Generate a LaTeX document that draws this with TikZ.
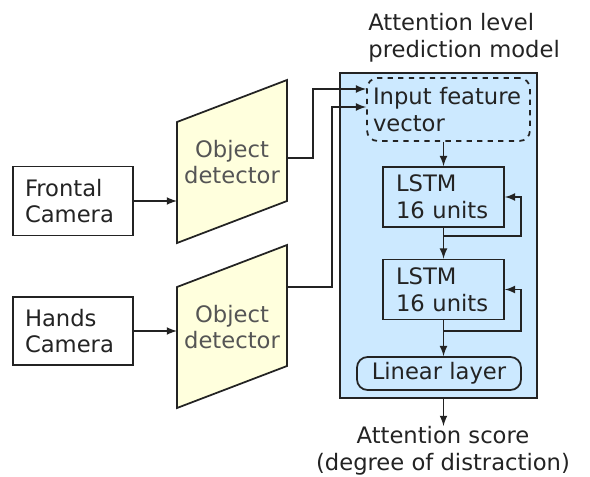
\documentclass[tikz,border=0pt]{standalone}
\usepackage{fontspec}
\setmainfont{DejaVu Sans}
\usepackage{tikz}
\usetikzlibrary{arrows,shapes,calc,positioning}
\definecolor{grisOscuro}{RGB}{35,35,35}
\definecolor{grisTexto}{RGB}{85,85,85}
\definecolor{azulClaro}{RGB}{204,233,255}
\definecolor{amarilloClaro}{RGB}{255,255,221}
\tikzstyle{edge}    =[->, >=latex, line width=1pt, draw=grisOscuro]
\tikzstyle{block}   =[rectangle, draw=grisOscuro, line width=1pt,
                      align=left, inner ysep=0pt, text=grisOscuro]
\tikzstyle{detector}=[draw=grisOscuro, fill=amarilloClaro, line width=1pt]
\tikzstyle{dettxt}  =[align=center, text=grisTexto, inner sep=0pt]
\tikzstyle{model}   =[rectangle, draw=grisOscuro, fill=azulClaro,
                      line width=1.3pt, minimum width=3.94cm,
                      minimum height=6.5cm]
\tikzstyle{txt}     =[inner sep=0pt, text=grisOscuro]

\begin{document}
\begin{tikzpicture}[x=0.02cm, y=-0.02cm, font=\fontsize{12.9}{15.2}\selectfont]
    \useasboundingbox (0,0) rectangle (590,476);

    % cameras
    \node[block, text width=1.92cm, inner xsep=0.24cm, minimum height=1.38cm]
        (frontal) at (73,201) {Frontal\\Camera};
    \node[block, text width=1.92cm, inner xsep=0.24cm, minimum height=1.36cm]
        (hands) at (73,331) {Hands\\Camera};

    % object detectors
    \foreach \n/\y in {1/122, 2/287} {
        \draw[detector] (177,\y) -- ++(110,-42) -- ++(0,121) -- ++(-110,42) -- cycle;
        \coordinate (det\n-l) at (177,\y);
        \node[dettxt] (det\n) at (232,\y+40) {Object\\detector};
    }
    \coordinate (det1-out) at (287,158);
    \coordinate (det2-out) at (287,287);

    % attention model
    \node[model] (model) at (438.5,235.5) {};
    \node[txt, anchor=west, align=left] (title) at (368,38)
        {Attention level\\prediction model};

    \node[block, dashed, rounded corners=6pt, text width=3.02cm,
          inner xsep=0.12cm, minimum height=1.26cm]
        (input) at (448.5,109.5) {Input feature\\vector};
    \foreach \n/\y in {1/197, 2/289.5}
        \node[block, text width=1.9cm, inner xsep=0.26cm, minimum height=1.2cm]
            (lstm\n) at (443.5,\y) {LSTM\\16 units};
    \node[block, rounded corners=6pt, align=center, minimum width=3.28cm,
          minimum height=0.66cm] (linear) at (439,373.5) {Linear layer};

    \node[txt, anchor=north, align=center] (score) at (443,426)
        {Attention score\\(degree of distraction)};

    % connections
    \draw[edge] (frontal.east) -- (frontal.east -| det1-l);
    \draw[edge] (hands.east) -- (hands.east -| det2-l);
    \draw[edge] (det1-out) -- ++(26,0) |- ([yshift=0.41cm]input.west);
    \draw[edge] (det2-out) -- ++(45,0) |- ([yshift=0.05cm]input.west);

    \draw[edge] (input.south -| lstm1.north) -- (lstm1.north);
    \draw[edge] (lstm1) -- (lstm2);
    \draw[edge] (lstm2.south) -- (lstm2.south |- linear.north);
    \draw[edge] (lstm2.south |- model.south) -- (lstm2.south |- score.north);

    \foreach \n/\d in {1/8, 2/11}
        \draw[edge] (lstm\n.south) -- ++(0,\d) -| ([xshift=0.32cm]lstm\n.east)
            -- (lstm\n.east);
\end{tikzpicture}
\end{document}
